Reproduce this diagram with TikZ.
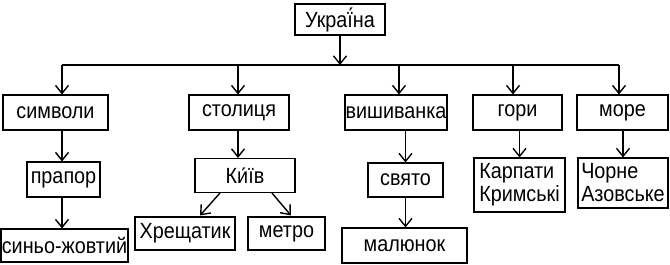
\documentclass[tikz,border=0pt]{standalone}
\usepackage{fontspec}
\setmainfont[FakeStretch=0.9]{Liberation Sans}
\usetikzlibrary{arrows.meta}

\begin{document}
\begin{tikzpicture}[x=1pt,y=-1pt,
  box/.style={draw,line width=1.1pt,inner sep=0pt,minimum height=35pt,
    font=\fontsize{22}{23}\selectfont},
  arr/.style={line width=1.4pt,-{Straight Barb[length=8pt,width=13pt,line width=1.4pt]}}]
\useasboundingbox (0,0) rectangle (670,265);

% top
\node[box,minimum width=90pt,minimum height=31pt] (ukr) at (340,19.5) {Украї́на};

% first row
\node[box,minimum width=105pt] (sym) at (55.5,112.5) {символи};
\node[box,minimum width=100pt] (cap) at (239,112.5) {столиця};
\node[box,minimum width=102pt] (emb) at (396,112.5) {вишиванка};
\node[box,minimum width=89pt] (mount) at (517.5,112.5) {гори};
\node[box,minimum width=91pt] (sea) at (622.5,112.5) {море};

% second row
\node[box,minimum width=73pt] (flag) at (63.5,179.5) {прапор};
\node[box,minimum width=100pt,minimum height=34pt] (kyiv) at (245,175.5) {Ки́їв};
\node[box,minimum width=75pt,minimum height=34pt] (fest) at (405.5,180) {свято};
\node[box,minimum width=91pt,minimum height=54pt,align=left] (karp) at (519.5,185) {Карпати\\Кримські};
\node[box,minimum width=90pt,minimum height=50pt,align=left] (blk) at (623,183) {Чорне\\Азовське};

% third row
\node[box,minimum width=127pt,minimum height=33pt] (col) at (64.5,245.5) {синьо-жовтий};
\node[box,minimum width=100pt,minimum height=33pt] (khr) at (185,233.5) {Хрещатик};
\node[box,minimum width=77pt,minimum height=33pt] (met) at (286.5,233.5) {метро};
\node[box,minimum width=125pt] (drw) at (404.5,245.5) {малюнок};

% bus
\coordinate (bm) at (340,65);
\coordinate (b1) at (62,65);
\coordinate (b2) at (238,65);
\coordinate (b3) at (399,65);
\coordinate (b4) at (513,65);
\coordinate (b5) at (619,65);
\draw[arr] (ukr.south) -- (bm);
\draw[line width=1.4pt] (b1) -- (b5);
\foreach \b/\n in {b1/sym,b2/cap,b3/emb,b4/mount,b5/sea}
  \draw[arr] (\b) -- (\b |- \n.north);

% lower arrows
\draw[arr] (b1 |- sym.south) -- (b1 |- flag.north);
\draw[arr] (b1 |- flag.south) -- (b1 |- col.north);
\draw[arr] (b2 |- cap.south) -- (b2 |- kyiv.north);
\draw[arr] ([xshift=-25pt]kyiv.south) -- ([xshift=15pt,yshift=1pt]khr.north);
\draw[arr] ([xshift=27pt]kyiv.south) -- ([xshift=4.5pt,yshift=1pt]met.north);
\draw[arr] (emb.south -| fest) -- (fest.north);
\draw[arr] (fest.south) -- (fest.south |- drw.north);
\draw[arr] (mount.south -| karp) -- (karp.north);
\draw[arr] (sea.south -| blk) -- (blk.north);

\end{tikzpicture}
\end{document}
